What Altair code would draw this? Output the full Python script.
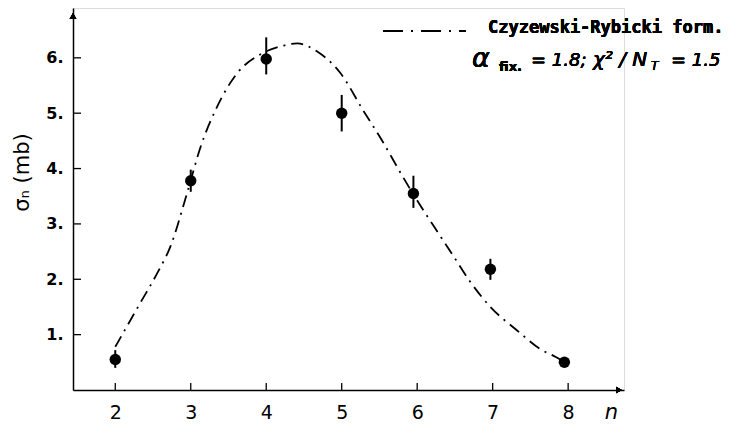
import altair as alt
import pandas as pd

# ---- data ----
n_pos = [2.0, 3.0, 4.0, 5.0, 5.95, 6.97, 7.95]
sigma = [0.55, 3.78, 5.98, 5.00, 3.55, 2.18, 0.50]
err_lo = [0.40, 3.58, 5.70, 4.67, 3.29, 1.99, 0.45]
err_hi = [0.72, 3.98, 6.37, 5.33, 3.87, 2.37, 0.55]

curve_n = [2.0, 2.33, 2.56, 2.73, 2.95, 3.13, 3.35, 3.62, 3.92, 4.23, 4.41,
           4.68, 4.98, 5.28, 5.55, 5.81, 6.08, 6.21, 6.48, 6.70, 6.97, 7.32,
           7.63, 7.83, 7.92]
curve_s = [0.78, 1.57, 2.12, 2.59, 3.55, 4.39, 5.12, 5.73, 6.06, 6.22, 6.26,
           6.11, 5.73, 5.06, 4.47, 3.85, 3.25, 2.98, 2.42, 1.96, 1.50, 1.08,
           0.74, 0.60, 0.53]

x_ticks = [2, 3, 4, 5, 6, 7, 8]
y_ticks = [1, 2, 3, 4, 5, 6]

pts = pd.DataFrame({"n": n_pos, "s": sigma, "lo": err_lo, "hi": err_hi})
curve = pd.DataFrame({"n": curve_n, "s": curve_s})
xt = pd.DataFrame({"n": x_ticks})
yt = pd.DataFrame({"s": y_ticks})

xs = alt.Scale(domain=[1.44, 8.74], nice=False, zero=False)
ys = alt.Scale(domain=[0, 6.9], nice=False, zero=False)

FONT = "DejaVu Sans"

x_axis = alt.Axis(values=x_ticks, format="d", ticks=False, grid=False,
                  domainColor="black", domainWidth=1.5, labelFont=FONT,
                  labelFontSize=19, labelColor="black", labelPadding=13,
                  title="n", titleFont=FONT, titleFontStyle="italic",
                  titleFontWeight="normal", titleFontSize=21, titleX=538,
                  titleY=22, titleAlign="center", titleBaseline="middle",
                  titleColor="black")
y_axis = alt.Axis(values=y_ticks, ticks=False, grid=False, domainColor="black",
                  domainWidth=1.5, labelFont=FONT, labelFontSize=16,
                  labelFontWeight="bold", labelColor="black", labelPadding=10,
                  labelExpr="format(datum.value, 'd') + '.'", title="σₙ (mb)",
                  titleFont=FONT, titleFontWeight="normal", titleFontSize=21,
                  titleX=-51, titleY=164, titleAlign="center",
                  titleBaseline="middle", titleAngle=270, titleColor="black")

line = alt.Chart(curve).mark_line(
    color="black", strokeWidth=1.8, strokeDash=[12, 6, 2, 6], interpolate="monotone"
).encode(
    x=alt.X("n:Q", scale=xs, axis=x_axis),
    y=alt.Y("s:Q", scale=ys, axis=y_axis),
    order="n:Q",
)

err = alt.Chart(pts).mark_rule(color="black", strokeWidth=2).encode(
    x=alt.X("n:Q", scale=xs), y=alt.Y("lo:Q", scale=ys), y2="hi:Q"
)

dots = alt.Chart(pts).mark_point(
    filled=True, color="black", opacity=1, size=130, shape="circle"
).encode(x=alt.X("n:Q", scale=xs), y=alt.Y("s:Q", scale=ys))

xtick = alt.Chart(xt).mark_rule(color="black", strokeWidth=1.3).encode(
    x=alt.X("n:Q", scale=xs), y=alt.value(382), y2=alt.value(375)
)
ytick = alt.Chart(yt).mark_rule(color="black", strokeWidth=1.3).encode(
    y=alt.Y("s:Q", scale=ys), x=alt.value(0), x2=alt.value(8)
)

arrow_up = alt.Chart(yt).mark_point(
    shape="triangle-up", filled=True, color="black", opacity=1, size=45
).encode(x=alt.value(0), y=alt.value(8))
arrow_right = alt.Chart(yt).mark_point(
    shape="triangle-right", filled=True, color="black", opacity=1, size=45
).encode(x=alt.value(546), y=alt.value(382))

leg_line = alt.Chart(yt).mark_rule(
    color="black", strokeWidth=1.8, strokeDash=[20, 8, 2, 8]
).encode(x=alt.value(310), x2=alt.value(393), y=alt.value(23))


def txt(text, x, y, size, style="normal", weight="normal", font=FONT):
    return alt.Chart(yt).mark_text(
        text=text, align="left", baseline="alphabetic", font=font,
        fontSize=size, fontStyle=style, fontWeight=weight, color="black"
    ).encode(x=alt.value(x), y=alt.value(y))


texts = [
    txt("Czyzewski-Rybicki form.", 415, 25, 17, weight="bold",
        font="DejaVu Sans Mono"),
    txt("α", 399, 59, 27, style="italic"),
    txt("fix.", 426, 63, 13, weight="bold"),
    txt("= 1.8;", 458, 58, 18, style="italic"),
    txt("χ² / N", 520, 58, 20, style="italic"),
    txt("T", 578, 62, 12, style="italic"),
    txt("= 1.5", 598, 58, 18, style="italic"),
]

chart = alt.layer(line, err, dots, xtick, ytick, arrow_up, arrow_right, leg_line,
                  *texts).properties(
    width=551, height=382,
    autosize=alt.AutoSizeParams(type="none"),
    padding={"left": 65, "top": 0, "right": 100, "bottom": 34},
).configure_view(stroke=None).configure(background="white")

chart.save("out.html", embed_options={"renderer": "svg", "actions": False})
